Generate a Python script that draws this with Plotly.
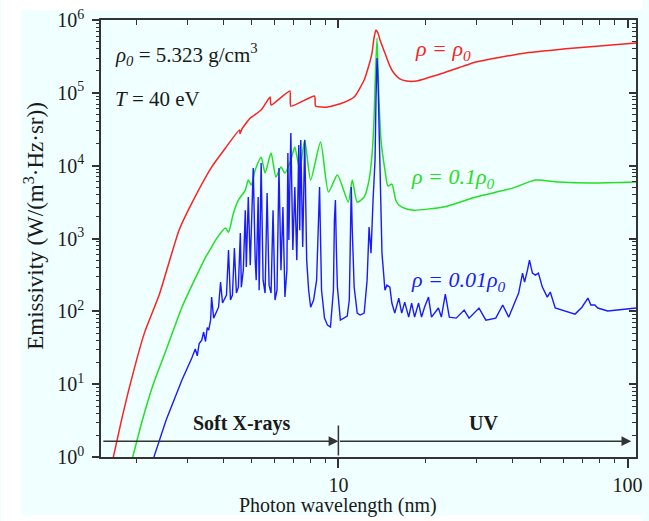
import math
import plotly.graph_objects as go

# ---------------- data ----------------
red_wl = [1.656, 1.778, 1.894, 2.133, 2.399, 2.811, 3.112, 3.644, 4.070, 4.55, 4.57, 4.64,
          4.957, 5.406, 5.804, 5.850, 6.795, 6.848, 8.275, 8.340, 9.169, 10.32, 11.34, 12.28,
          12.67, 13.07, 13.28, 13.49, 13.71, 13.93, 14.49, 15.07, 15.55, 16.31, 17.23, 18.64,
          23.07, 29.92, 44.40, 65.84, 107.4]
red_em = [0.90, 3.2, 9.1, 50.2, 167, 1300, 3060, 9570, 17500, 31000, 27500, 32000,
          45100, 58100, 87500, 67900, 106000, 65900, 90400, 65900, 63800, 72400, 87500, 150000,
          219000, 352000, 566000, 729000, 663000, 531000, 352000, 233000, 187000, 155000, 145000, 145000,
          187000, 265000, 352000, 412000, 483000]

green_wl = [1.924, 2.099, 2.271, 2.535, 2.877, 3.214, 3.476, 3.644, 3.761, 4.070, 4.169, 4.335,
            4.509, 4.765, 4.880, 4.996, 5.156, 5.406, 5.579, 5.850, 6.084, 6.330, 6.533, 6.848,
            7.068, 7.352, 7.648, 8.018, 8.677, 9.243, 9.922, 10.82, 11.17, 11.62, 12.28, 12.77,
            13.07, 13.28, 13.39, 13.60, 13.82, 14.04, 14.49, 14.84, 15.31, 15.79, 16.18, 17.23,
            18.21, 23.07, 29.92, 40.07, 48.03, 57.58, 75.28, 107.4]
green_em = [0.85, 3.2, 9.1, 29.3, 114, 295, 556, 762, 951, 1390, 1220, 2230,
            3370, 4620, 6340, 5420, 8710, 13100, 7910, 14900, 6970, 9570, 7910, 11900,
            18000, 8710, 22500, 6340, 21100, 4340, 7430, 3160, 6340, 3160, 3710, 6340,
            14000, 42300, 120000, 566000, 79600, 22500, 8710, 5250, 5590, 3370, 2880, 2540,
            2450, 2700, 3710, 4920, 6340, 5960, 5770, 5960]

blue_wl = [2.289, 2.307, 2.535, 2.877, 3.112, 3.20, 3.25, 3.30, 3.369, 3.42, 3.47, 3.52,
           3.559, 3.615, 3.644, 3.703, 3.851,
           3.913, 3.974, 4.102, 4.169, 4.234, 4.301, 4.369, 4.439, 4.509, 4.581, 4.617, 4.690,
           4.765, 4.803, 4.880, 4.957, 5.076, 5.156, 5.197, 5.279, 5.321, 5.406, 5.490, 5.579,
           5.668, 5.758, 5.850, 5.943, 6.037, 6.134, 6.230, 6.330, 6.430, 6.533, 6.636, 6.688,
           6.741, 6.848, 6.958, 7.068, 7.181, 7.295, 7.352, 7.411, 7.528, 7.648, 7.769, 7.892,
           8.018, 8.210, 8.408, 8.608, 8.745, 8.955, 9.169, 9.389, 9.613, 9.689, 9.766, 9.843,
           9.922, 10.16, 10.48, 10.73, 10.91, 11.08, 11.17, 11.34, 11.62, 11.89, 12.28, 12.57,
           12.77, 12.97, 13.18, 13.39, 13.49, 13.60, 13.71, 13.82, 13.93, 14.04, 14.15, 14.26,
           14.49, 14.72, 15.07, 15.31, 15.67, 16.18, 16.56, 16.96, 17.51, 17.92, 18.35, 18.94,
           19.39, 19.86, 20.50, 20.99, 22.18, 22.71, 23.44, 24.19, 25.56, 27.23, 28.32, 30.64,
           32.38, 35.03, 37.02, 38.82, 42.02, 43.35, 44.05, 45.09, 45.81, 46.90, 48.03, 49.18,
           50.76, 52.79, 54.06, 56.23, 59.43, 62.30, 65.84, 69.58, 71.24, 72.95, 74.69, 77.09,
           78.94, 85.43, 97.66, 107.4]
blue_em = [0.90, 1.03, 3.2, 11.4, 22.8, 30.5, 24.5, 36.0, 40.2, 52.0, 38.5, 60.0,
           55.2, 75.7, 157, 80.7, 114,
           252, 130, 167, 693, 143, 167, 738, 178, 215, 1190, 215, 368,
           2450, 405, 3710, 431, 9270, 505, 268, 3710, 195, 10900, 268, 178,
           4210, 229, 178, 2450, 143, 195, 9270, 368, 2700, 157, 368, 14900,
           951, 28100, 693, 5080, 505, 19200, 1300, 22500, 762, 22500, 505, 195,
           114, 143, 268, 5080, 195, 80.7, 64.6, 60.7, 195, 1790, 3370, 693,
           215, 75.7, 80.7, 85.9, 143, 5080, 1300, 215, 94.4, 88.9, 94.4, 268,
           1440, 630, 3370, 11900, 79600, 301000, 150000, 30800, 14900, 3370, 630, 431,
           195, 229, 215, 130, 94.4, 152, 94.4, 134, 83.2, 130, 83.2, 130,
           83.2, 114, 157, 83.2, 111, 83.2, 172, 83.2, 80.7, 104, 80.7, 111,
           75.7, 80.7, 122, 83.2, 178, 335, 252, 368, 505, 335, 314, 335,
           215, 157, 184, 111, 104, 97.5, 91.6, 114, 130, 152, 122, 122,
           111, 101, 107, 111]

x_range = [1.51, 107.0]
y_range = [1.0, 1.0e6]
x_major = [10, 100]
x_minor = [2, 3, 4, 5, 6, 7, 8, 9, 20, 30, 40, 50, 60, 70, 80, 90]
y_major = [1, 10, 100, 1000, 10000, 100000, 1000000]
y_major_text = ["10<sup>%d</sup>" % i for i in range(7)]
y_minor = [m * 10 ** d for d in range(6) for m in range(2, 10)]

band_y = 1.65        # level of the band arrows
band_edge = 10.0     # soft X-ray / UV boundary (nm)
band_left = 1.52
band_right = 103.0
divider_top = 2.7

FONT = "Liberation Serif, Times New Roman, serif"
AX = "#333333"
BG = "#F0FFFF"
TXT = "#1a1a1a"

fig = go.Figure()
fig.add_trace(go.Scatter(x=red_wl, y=red_em, mode="lines",
                         line=dict(color="#FF2020", width=1.5, shape="spline", smoothing=0.5),
                         showlegend=False))
fig.add_trace(go.Scatter(x=green_wl, y=green_em, mode="lines",
                         line=dict(color="#22E022", width=1.5, shape="spline", smoothing=0.6),
                         showlegend=False))
fig.add_trace(go.Scatter(x=blue_wl, y=blue_em, mode="lines",
                         line=dict(color="#1A1AFF", width=1.4), showlegend=False))
# carriers for the extra tick axes (mirrored frame ticks and minor ticks)
for xa, ya in [("x2", "y2"), ("x3", "y3"), ("x4", "y4")]:
    fig.add_trace(go.Scatter(x=[None], y=[None], xaxis=xa, yaxis=ya, mode="lines",
                             showlegend=False, hoverinfo="skip"))

lx = [math.log10(v) for v in x_range]
ly = [math.log10(v) for v in y_range]

common = dict(showgrid=False, zeroline=False, showline=True, linecolor=AX, linewidth=1.5,
              tickcolor=AX, tickwidth=1.5)
bare = dict(showgrid=False, zeroline=False, showline=False, tickcolor=AX, tickwidth=1.2,
            showticklabels=False, tickmode="array")

fig.update_layout(
    width=649, height=521,
    margin=dict(l=101, r=7, t=20, b=64),
    paper_bgcolor=BG, plot_bgcolor=BG,
    font=dict(family=FONT, size=20, color=TXT),
    xaxis=dict(type="log", range=lx, tickmode="array", tickvals=x_major,
               ticktext=[str(v) for v in x_major], ticks="outside", ticklen=9,
               tickfont=dict(family=FONT, size=20, color=TXT),
               **common),
    yaxis=dict(type="log", range=ly, tickmode="array", tickvals=y_major, ticktext=y_major_text,
               ticks="outside", ticklen=7,
               tickfont=dict(family=FONT, size=20, color=TXT), ticklabelstandoff=4,
               **common),
    # mirrored major ticks (top / right, pointing inward)
    xaxis2=dict(type="log", range=lx, overlaying="x", side="top", tickmode="array",
                tickvals=x_major, ticks="inside", ticklen=8, showticklabels=False, **common),
    yaxis2=dict(type="log", range=ly, overlaying="y", side="right", tickmode="array",
                tickvals=y_major, ticks="inside", ticklen=7, showticklabels=False, **common),
    # minor ticks bottom / left (outside)
    xaxis3=dict(type="log", range=lx, overlaying="x", side="bottom", tickvals=x_minor,
                ticks="outside", ticklen=5, **bare),
    yaxis3=dict(type="log", range=ly, overlaying="y", side="left", tickvals=y_minor,
                ticks="outside", ticklen=4, **bare),
    # minor ticks top / right (inside)
    xaxis4=dict(type="log", range=lx, overlaying="x", side="top", tickvals=x_minor,
                ticks="inside", ticklen=5, **bare),
    yaxis4=dict(type="log", range=ly, overlaying="y", side="right", tickvals=y_minor,
                ticks="inside", ticklen=4, **bare),
)

W, H = 541.0, 437.0


def px(xp):
    return (xp - 101) / W


def py(yp):
    return (457 - yp) / H


# thin white margins around the light-cyan panel (left, top, bottom strips)
for x0, x1, y0, y1 in [(0, 20, 0, 521), (0, 649, 0, 10), (0, 649, 515, 521)]:
    fig.add_shape(type="rect", xref="paper", yref="paper",
                  x0=px(x0), x1=px(x1), y0=py(y1), y1=py(y0),
                  fillcolor="white", line=dict(width=0), layer="below")


def ann(text, x, y, color=TXT, xanchor="left", size=20, angle=0):
    fig.add_annotation(text=text, xref="paper", yref="paper", x=px(x), y=py(y),
                       xanchor=xanchor, yanchor="middle", showarrow=False, textangle=angle,
                       font=dict(family=FONT, size=size, color=color))


# axis titles
ann("Photon wavelength (nm)", 341, 505, xanchor="center", size=20)
ann("Emissivity (W/(m<sup>3</sup>·Hz·sr))", 33, 226, xanchor="center", size=23, angle=-90)

ann("<i>ρ<sub>0</sub></i> = 5.323 g/cm<sup>3</sup>", 113, 55, size=21)
ann("<i>T</i> = 40 eV", 113, 99, size=21)
ann("<i>ρ = ρ<sub>0</sub></i>", 417, 50, color="#FF2020", size=22)
ann("<i>ρ = 0.1ρ<sub>0</sub></i>", 412, 178, color="#22E022", size=22)
ann("<i>ρ = 0.01ρ<sub>0</sub></i>", 412, 281, color="#1A1AFF", size=22)
ann("<b>Soft X-rays</b>", 243, 423, xanchor="center", size=20)
ann("<b>UV</b>", 488, 423, xanchor="center", size=20)

# band arrows and divider (annotation coordinates are log10 on log axes)
L = math.log10
for tail, head in [(band_left, band_edge), (band_edge, band_right)]:
    fig.add_annotation(x=L(head), y=L(band_y), ax=L(tail), ay=L(band_y),
                       xref="x", yref="y", axref="x", ayref="y", text="",
                       showarrow=True, arrowhead=2, arrowsize=1.3, arrowwidth=1.5,
                       arrowcolor=AX, standoff=0, startstandoff=0)
fig.add_annotation(x=L(band_edge), y=L(divider_top), ax=L(band_edge), ay=L(y_range[0]),
                   xref="x", yref="y", axref="x", ayref="y", text="",
                   showarrow=True, arrowhead=0, arrowwidth=1.5, arrowcolor=AX,
                   standoff=0, startstandoff=0)

fig.write_html("out.html")
